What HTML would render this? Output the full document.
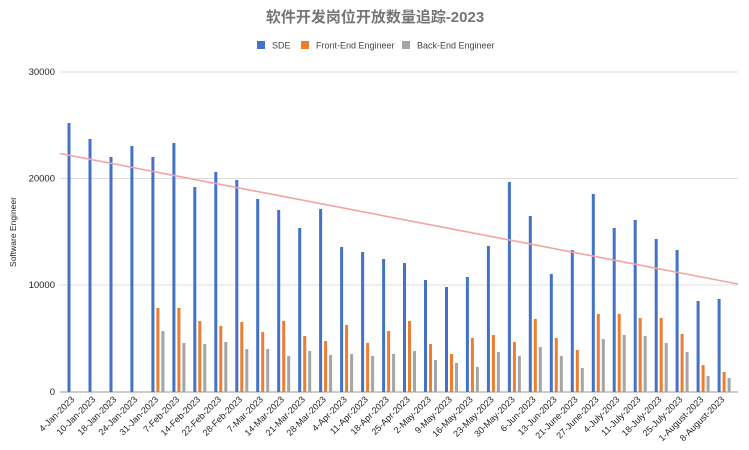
<!DOCTYPE html>
<html><head><meta charset="utf-8"><style>
html,body{margin:0;padding:0;background:#fff;}
svg{display:block;font-family:"Liberation Sans","Noto Sans CJK SC",sans-serif;}
</style></head><body>
<svg width="749" height="450" viewBox="0 0 749 450" xmlns="http://www.w3.org/2000/svg">
<rect width="749" height="450" fill="#fff"/>
<text x="375" y="22" text-anchor="middle" font-size="15" font-weight="bold" fill="#757575">软件开发岗位开放数量追踪-2023</text>
<g font-size="9" fill="#444">
<rect x="257" y="41" width="8" height="8" fill="#4472c4"/><text x="272" y="48.5">SDE</text>
<rect x="301" y="41" width="8" height="8" fill="#ed7d31"/><text x="316" y="48.5">Front-End Engineer</text>
<rect x="402" y="41" width="8" height="8" fill="#a5a5a5"/><text x="417" y="48.5">Back-End Engineer</text>
</g>
<g stroke="#dcdcdc" stroke-width="1">
<line x1="60" y1="72" x2="738" y2="72"/>
<line x1="60" y1="178.5" x2="738" y2="178.5"/>
<line x1="60" y1="285" x2="738" y2="285"/>
</g>
<line x1="60" y1="392" x2="738" y2="392" stroke="#999" stroke-width="1"/>
<g font-size="9.5" fill="#222" text-anchor="end">
<text x="55" y="75">30000</text>
<text x="55" y="181.5">20000</text>
<text x="55" y="288">10000</text>
<text x="55" y="395">0</text>
</g>
<text transform="translate(16,232) rotate(-90)" text-anchor="middle" font-size="8.5" fill="#222">Software Engineer</text>
<g fill="#4472c4">
<rect x="67.5" y="123" width="3" height="269"/>
<rect x="88.5" y="139" width="3" height="253"/>
<rect x="109.5" y="157" width="3" height="235"/>
<rect x="130.4" y="146" width="3" height="246"/>
<rect x="151.4" y="157" width="3" height="235"/>
<rect x="172.4" y="143" width="3" height="249"/>
<rect x="193.3" y="187" width="3" height="205"/>
<rect x="214.3" y="172" width="3" height="220"/>
<rect x="235.3" y="180" width="3" height="212"/>
<rect x="256.2" y="199" width="3" height="193"/>
<rect x="277.2" y="210" width="3" height="182"/>
<rect x="298.2" y="228" width="3" height="164"/>
<rect x="319.1" y="209" width="3" height="183"/>
<rect x="340.1" y="247" width="3" height="145"/>
<rect x="361.1" y="252" width="3" height="140"/>
<rect x="382.1" y="259" width="3" height="133"/>
<rect x="403" y="263" width="3" height="129"/>
<rect x="424" y="280" width="3" height="112"/>
<rect x="445" y="287" width="3" height="105"/>
<rect x="465.9" y="277" width="3" height="115"/>
<rect x="486.9" y="246" width="3" height="146"/>
<rect x="507.9" y="182" width="3" height="210"/>
<rect x="528.8" y="216" width="3" height="176"/>
<rect x="549.8" y="274" width="3" height="118"/>
<rect x="570.8" y="250" width="3" height="142"/>
<rect x="591.8" y="194" width="3" height="198"/>
<rect x="612.7" y="228" width="3" height="164"/>
<rect x="633.7" y="220" width="3" height="172"/>
<rect x="654.7" y="239" width="3" height="153"/>
<rect x="675.6" y="250" width="3" height="142"/>
<rect x="696.6" y="301" width="3" height="91"/>
<rect x="717.6" y="299" width="3" height="93"/>
</g>
<g fill="#ed7d31">
<rect x="156.4" y="308" width="3" height="84"/>
<rect x="177.4" y="308" width="3" height="84"/>
<rect x="198.3" y="321" width="3" height="71"/>
<rect x="219.3" y="326" width="3" height="66"/>
<rect x="240.3" y="322" width="3" height="70"/>
<rect x="261.2" y="332" width="3" height="60"/>
<rect x="282.2" y="321" width="3" height="71"/>
<rect x="303.2" y="336" width="3" height="56"/>
<rect x="324.1" y="341" width="3" height="51"/>
<rect x="345.1" y="325" width="3" height="67"/>
<rect x="366.1" y="343" width="3" height="49"/>
<rect x="387.1" y="331" width="3" height="61"/>
<rect x="408" y="321" width="3" height="71"/>
<rect x="429" y="344" width="3" height="48"/>
<rect x="450" y="354" width="3" height="38"/>
<rect x="470.9" y="338" width="3" height="54"/>
<rect x="491.9" y="335" width="3" height="57"/>
<rect x="512.9" y="342" width="3" height="50"/>
<rect x="533.8" y="319" width="3" height="73"/>
<rect x="554.8" y="338" width="3" height="54"/>
<rect x="575.8" y="350" width="3" height="42"/>
<rect x="596.8" y="314" width="3" height="78"/>
<rect x="617.7" y="314" width="3" height="78"/>
<rect x="638.7" y="318" width="3" height="74"/>
<rect x="659.7" y="318" width="3" height="74"/>
<rect x="680.6" y="334" width="3" height="58"/>
<rect x="701.6" y="365" width="3" height="27"/>
<rect x="722.6" y="372" width="3" height="20"/>
</g>
<g fill="#a5a5a5">
<rect x="161.4" y="331" width="3" height="61"/>
<rect x="182.4" y="343" width="3" height="49"/>
<rect x="203.3" y="344" width="3" height="48"/>
<rect x="224.3" y="342" width="3" height="50"/>
<rect x="245.3" y="349" width="3" height="43"/>
<rect x="266.2" y="349" width="3" height="43"/>
<rect x="287.2" y="356" width="3" height="36"/>
<rect x="308.2" y="351" width="3" height="41"/>
<rect x="329.1" y="355" width="3" height="37"/>
<rect x="350.1" y="354" width="3" height="38"/>
<rect x="371.1" y="356" width="3" height="36"/>
<rect x="392.1" y="354" width="3" height="38"/>
<rect x="413" y="351" width="3" height="41"/>
<rect x="434" y="360" width="3" height="32"/>
<rect x="455" y="363" width="3" height="29"/>
<rect x="475.9" y="367" width="3" height="25"/>
<rect x="496.9" y="352" width="3" height="40"/>
<rect x="517.9" y="356" width="3" height="36"/>
<rect x="538.8" y="347" width="3" height="45"/>
<rect x="559.8" y="356" width="3" height="36"/>
<rect x="580.8" y="368" width="3" height="24"/>
<rect x="601.8" y="339" width="3" height="53"/>
<rect x="622.7" y="335" width="3" height="57"/>
<rect x="643.7" y="336" width="3" height="56"/>
<rect x="664.7" y="343" width="3" height="49"/>
<rect x="685.6" y="352" width="3" height="40"/>
<rect x="706.6" y="376" width="3" height="16"/>
<rect x="727.6" y="378" width="3" height="14"/>
</g>
<line x1="60" y1="153.5" x2="738" y2="284" stroke="#f4a3a3" stroke-width="1.6"/>
<g font-size="9" fill="#222" text-anchor="end">
<text transform="translate(75,400) rotate(-45)">4-Jan-2023</text>
<text transform="translate(96,400) rotate(-45)">10-Jan-2023</text>
<text transform="translate(117,400) rotate(-45)">18-Jan-2023</text>
<text transform="translate(137.9,400) rotate(-45)">24-Jan-2023</text>
<text transform="translate(158.9,400) rotate(-45)">31-Jan-2023</text>
<text transform="translate(179.9,400) rotate(-45)">7-Feb-2023</text>
<text transform="translate(200.8,400) rotate(-45)">14-Feb-2023</text>
<text transform="translate(221.8,400) rotate(-45)">22-Feb-2023</text>
<text transform="translate(242.8,400) rotate(-45)">28-Feb-2023</text>
<text transform="translate(263.7,400) rotate(-45)">7-Mar-2023</text>
<text transform="translate(284.7,400) rotate(-45)">14-Mar-2023</text>
<text transform="translate(305.7,400) rotate(-45)">21-Mar-2023</text>
<text transform="translate(326.6,400) rotate(-45)">28-Mar-2023</text>
<text transform="translate(347.6,400) rotate(-45)">4-Apr-2023</text>
<text transform="translate(368.6,400) rotate(-45)">11-Apr-2023</text>
<text transform="translate(389.6,400) rotate(-45)">18-Apr-2023</text>
<text transform="translate(410.5,400) rotate(-45)">25-Apr-2023</text>
<text transform="translate(431.5,400) rotate(-45)">2-May-2023</text>
<text transform="translate(452.5,400) rotate(-45)">9-May-2023</text>
<text transform="translate(473.4,400) rotate(-45)">16-May-2023</text>
<text transform="translate(494.4,400) rotate(-45)">23-May-2023</text>
<text transform="translate(515.4,400) rotate(-45)">30-May-2023</text>
<text transform="translate(536.3,400) rotate(-45)">6-Jun-2023</text>
<text transform="translate(557.3,400) rotate(-45)">13-Jun-2023</text>
<text transform="translate(578.3,400) rotate(-45)">21-June-2023</text>
<text transform="translate(599.3,400) rotate(-45)">27-June-2023</text>
<text transform="translate(620.2,400) rotate(-45)">4-July-2023</text>
<text transform="translate(641.2,400) rotate(-45)">11-July-2023</text>
<text transform="translate(662.2,400) rotate(-45)">18-July-2023</text>
<text transform="translate(683.1,400) rotate(-45)">25-July-2023</text>
<text transform="translate(704.1,400) rotate(-45)">1-August-2023</text>
<text transform="translate(725.1,400) rotate(-45)">8-August-2023</text>
</g>
</svg>
</body></html>
